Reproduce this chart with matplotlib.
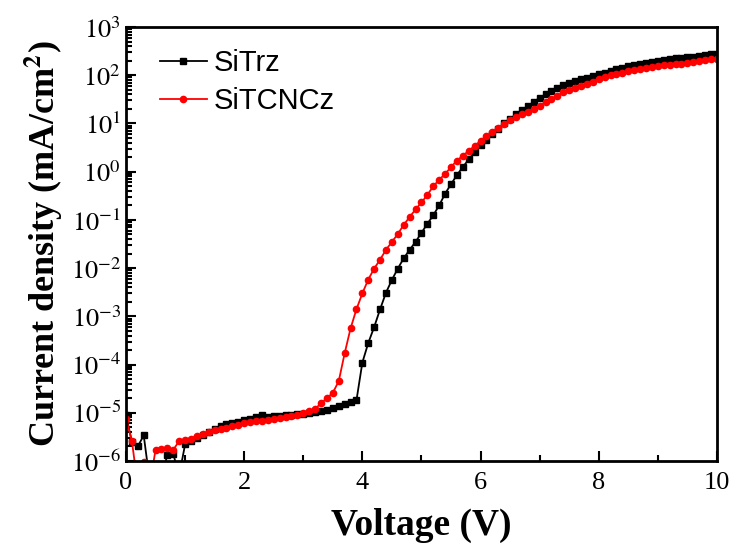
import matplotlib
matplotlib.use("Agg")
import matplotlib.pyplot as plt
import numpy as np
from matplotlib.ticker import LogLocator, MultipleLocator, NullFormatter, FuncFormatter

plt.rcParams['font.family'] = ['Liberation Serif', 'DejaVu Serif']
plt.rcParams['mathtext.fontset'] = 'stix'

voltage = [round(0.1 * i, 1) for i in range(101)]

sitrz = [
    9e-6, 2.5e-6, 2.0e-6, 3.4e-6, 4e-7, 3e-7, 5e-7, 1.3e-6, 1.4e-6, 5e-7,
    2.2e-6, 2.6e-6, 3.0e-6, 3.5e-6, 4.0e-6, 4.6e-6, 5.2e-6, 5.8e-6, 6.2e-6, 6.5e-6,
    7.2e-6, 7.5e-6, 8.2e-6, 8.8e-6, 8.3e-6, 8.5e-6, 8.6e-6, 8.8e-6, 9.0e-6, 9.3e-6,
    9.6e-6, 1.0e-5, 1.05e-5, 1.1e-5, 1.15e-5, 1.25e-5, 1.35e-5, 1.5e-5, 1.65e-5, 1.8e-5,
    1.1e-4, 2.8e-4, 6e-4, 1.4e-3, 3.1e-3, 5.7e-3, 9.8e-3, 1.6e-2, 2.4e-2, 3.5e-2,
    5.4e-2, 8.3e-2, 0.125, 0.2, 0.35, 0.55, 0.85, 1.25, 1.8, 2.6,
    3.5, 4.6, 6.0, 7.6, 10, 12.5, 15.5, 19, 23, 28,
    34, 40, 47, 54, 62, 69, 76, 82, 89, 97,
    106, 114, 123, 132, 142, 153, 163, 170, 177, 185,
    197, 208, 215, 223, 230, 238, 245, 252, 262, 272,
    282,
]

sitcncz = [
    7.6e-6, 2.6e-6, 3e-7, 9.5e-7, 3e-7, 1.7e-6, 1.8e-6, 1.9e-6, 1.7e-6, 2.6e-6,
    2.7e-6, 2.9e-6, 3.3e-6, 3.6e-6, 3.9e-6, 4.3e-6, 4.6e-6, 4.9e-6, 5.2e-6, 5.6e-6,
    6.0e-6, 6.3e-6, 6.6e-6, 6.9e-6, 7.2e-6, 7.5e-6, 7.8e-6, 8.2e-6, 8.6e-6, 9.1e-6,
    9.8e-6, 1.07e-5, 1.18e-5, 1.6e-5, 2.0e-5, 2.6e-5, 4.5e-5, 1.7e-4, 5.6e-4, 1.4e-3,
    3e-3, 5.8e-3, 9.8e-3, 1.5e-2, 2.4e-2, 3.5e-2, 5.1e-2, 7.9e-2, 0.115, 0.165,
    0.23, 0.33, 0.5, 0.68, 0.9, 1.25, 1.7, 2.15, 2.7, 3.45,
    4.35, 5.5, 6.8, 8.1, 9.8, 11.7, 13.8, 15.5, 17.5, 20,
    23, 28, 32.5, 38, 44, 50, 55, 61, 67, 74,
    83, 91, 100, 108, 114, 121, 127, 134, 140, 146,
    154, 162, 166, 169, 172, 180, 190, 200, 209, 215,
    220,
]

fig = plt.figure(figsize=(7.35, 5.57), dpi=100)
ax = fig.add_axes([0.1714, 0.1724, 0.804, 0.779])

ax.plot(voltage, sitrz, color='black', marker='s', markersize=4, linewidth=1.3, label='SiTrz')
ax.plot(voltage, sitcncz, color='#ff0000', marker='o', markersize=4.5, linewidth=1.3, label='SiTCNCz')

ax.set_yscale('log')
ax.set_xlim(0, 10)
ax.set_ylim(1e-6, 1e3)

ax.xaxis.set_major_locator(MultipleLocator(2))
ax.xaxis.set_minor_locator(MultipleLocator(1))
ax.yaxis.set_major_locator(LogLocator(base=10, numticks=20))
ax.yaxis.set_minor_locator(LogLocator(base=10, subs=np.arange(2, 10), numticks=20))
ax.yaxis.set_minor_formatter(NullFormatter())
ax.yaxis.set_major_formatter(FuncFormatter(lambda v, p: r'$10^{%d}$' % int(round(np.log10(v)))))

ax.tick_params(which='both', direction='in', top=False, right=False, labelsize=19, width=1.5)
ax.tick_params(which='major', length=7)
ax.tick_params(which='minor', length=4)
ax.tick_params(axis='x', pad=8)
for s in ax.spines.values():
    s.set_linewidth(2)

ax.set_xlabel('Voltage (V)', fontsize=27, fontweight='bold', labelpad=10)
ax.set_ylabel(r'Current density (mA/cm$^\mathbf{2}$)', fontsize=26, fontweight='bold', labelpad=4)

leg = ax.legend(loc='upper left', frameon=False, prop={'family': 'Liberation Sans', 'size': 21},
                handlelength=1.6, handletextpad=0.25, borderaxespad=0.2, labelspacing=0.35,
                bbox_to_anchor=(0.028, 0.99))

fig.savefig('out.png', dpi=100)
